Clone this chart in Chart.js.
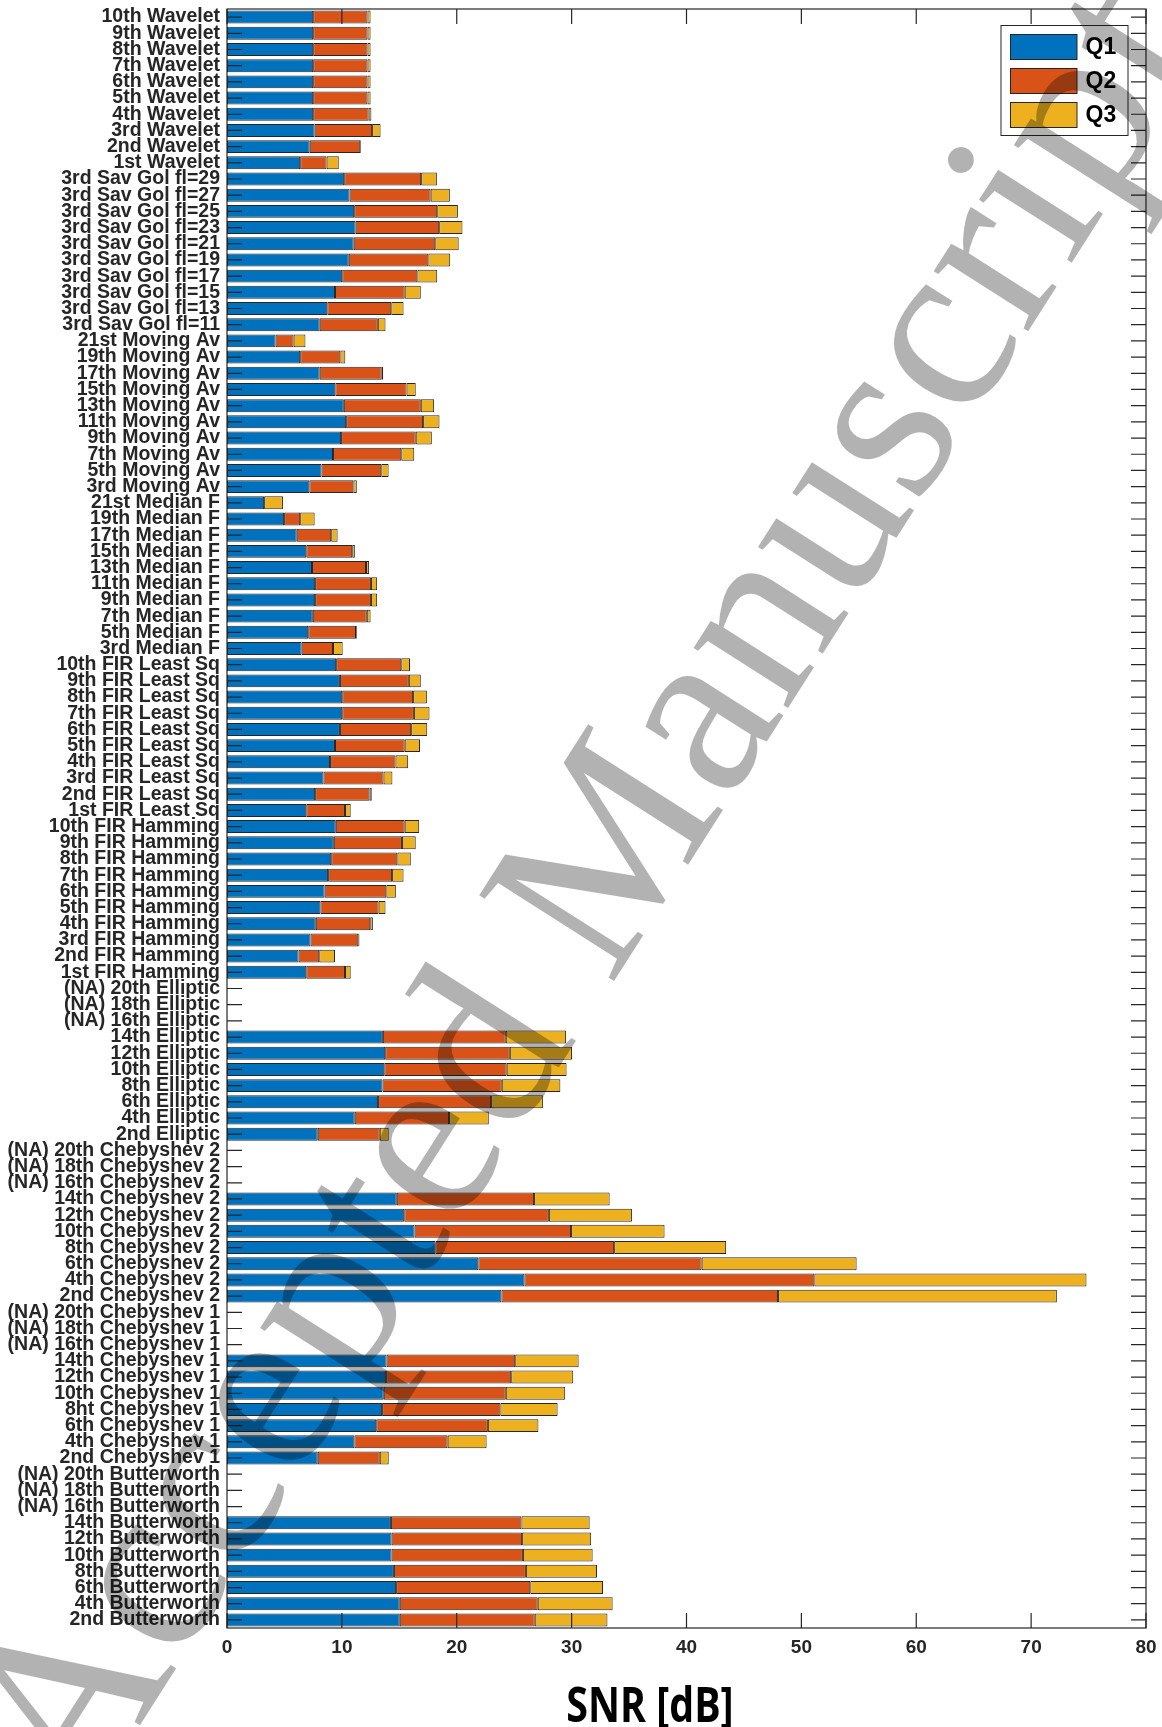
<!DOCTYPE html>
<html>
<head>
<meta charset="utf-8">
<title>SNR quartiles per filter</title>
<script src="https://cdn.jsdelivr.net/npm/chart.js@4.4.0/dist/chart.umd.min.js"></script>
<style>
    html, body { margin: 0; padding: 0; background: #fff; }
</style>
</head>
<body>
<canvas id="snrChart" width="1162" height="1727"></canvas>
<script>
// Filter names, top to bottom
const filterLabels = [
    '10th Wavelet', '9th Wavelet', '8th Wavelet', '7th Wavelet', '6th Wavelet',
    '5th Wavelet', '4th Wavelet', '3rd Wavelet', '2nd Wavelet', '1st Wavelet',
    '3rd Sav Gol fl=29', '3rd Sav Gol fl=27', '3rd Sav Gol fl=25', '3rd Sav Gol fl=23', '3rd Sav Gol fl=21',
    '3rd Sav Gol fl=19', '3rd Sav Gol fl=17', '3rd Sav Gol fl=15', '3rd Sav Gol fl=13', '3rd Sav Gol fl=11',
    '21st Moving Av', '19th Moving Av', '17th Moving Av', '15th Moving Av', '13th Moving Av',
    '11th Moving Av', '9th Moving Av', '7th Moving Av', '5th Moving Av', '3rd Moving Av',
    '21st Median F', '19th Median F', '17th Median F', '15th Median F', '13th Median F',
    '11th Median F', '9th Median F', '7th Median F', '5th Median F', '3rd Median F',
    '10th FIR Least Sq', '9th FIR Least Sq', '8th FIR Least Sq', '7th FIR Least Sq', '6th FIR Least Sq',
    '5th FIR Least Sq', '4th FIR Least Sq', '3rd FIR Least Sq', '2nd FIR Least Sq', '1st FIR Least Sq',
    '10th FIR Hamming', '9th FIR Hamming', '8th FIR Hamming', '7th FIR Hamming', '6th FIR Hamming',
    '5th FIR Hamming', '4th FIR Hamming', '3rd FIR Hamming', '2nd FIR Hamming', '1st FIR Hamming',
    '(NA) 20th Elliptic', '(NA) 18th Elliptic', '(NA) 16th Elliptic', '14th Elliptic', '12th Elliptic',
    '10th Elliptic', '8th Elliptic', '6th Elliptic', '4th Elliptic', '2nd Elliptic',
    '(NA) 20th Chebyshev 2', '(NA) 18th Chebyshev 2', '(NA) 16th Chebyshev 2', '14th Chebyshev 2', '12th Chebyshev 2',
    '10th Chebyshev 2', '8th Chebyshev 2', '6th Chebyshev 2', '4th Chebyshev 2', '2nd Chebyshev 2',
    '(NA) 20th Chebyshev 1', '(NA) 18th Chebyshev 1', '(NA) 16th Chebyshev 1', '14th Chebyshev 1', '12th Chebyshev 1',
    '10th Chebyshev 1', '8ht Chebyshev 1', '6th Chebyshev 1', '4th Chebyshev 1', '2nd Chebyshev 1',
    '(NA) 20th Butterworth', '(NA) 18th Butterworth', '(NA) 16th Butterworth', '14th Butterworth', '12th Butterworth',
    '10th Butterworth', '8th Butterworth', '6th Butterworth', '4th Butterworth', '2nd Butterworth'
];

// Quartiles of SNR [dB] (null = not available)
const q1Values = [
    7.5, 7.5, 7.5, 7.5, 7.5, 7.5, 7.5, 7.63, 7.2, 6.37,
    10.2, 10.67, 11.07, 11.2, 11.03, 10.6, 10.03, 9.4, 8.73, 8.07,
    4.23, 6.37, 8.07, 9.43, 10.17, 10.37, 9.93, 9.23, 8.23, 7.17,
    3.23, 4.97, 6.07, 6.9, 7.4, 7.67, 7.67, 7.47, 7.07, 6.5,
    9.5, 9.83, 10.03, 10.03, 9.83, 9.4, 8.97, 8.4, 7.67, 6.9,
    9.47, 9.3, 9.07, 8.8, 8.5, 8.13, 7.73, 7.27, 6.23, 6.9,
    null, null, null, 13.57, 13.77, 13.69, 13.54, 13.15, 11.12, 7.9,
    null, null, null, 14.78, 15.43, 16.33, 18.14, 21.88, 25.89, 23.89,
    null, null, null, 13.89, 13.85, 13.65, 13.5, 12.99, 11.09, 7.9,
    null, null, null, 14.27, 14.33, 14.33, 14.53, 14.72, 15.04, 15.04
];
const q2Values = [
    12.23, 12.23, 12.23, 12.23, 12.23, 12.23, 12.33, 12.63, 11.6, 8.67,
    16.9, 17.73, 18.3, 18.47, 18.13, 17.53, 16.57, 15.47, 14.3, 13.13,
    5.8, 9.87, 13.47, 15.63, 16.87, 17.07, 16.43, 15.17, 13.43, 11.0,
    3.23, 6.37, 9.07, 10.9, 12.1, 12.53, 12.53, 12.17, 11.23, 9.23,
    15.17, 15.83, 16.2, 16.27, 16.03, 15.47, 14.67, 13.63, 12.4, 10.27,
    15.47, 15.23, 14.83, 14.37, 13.87, 13.2, 12.47, 11.43, 8.03, 10.27,
    null, null, null, 24.27, 24.62, 24.35, 23.92, 22.99, 19.33, 13.3,
    null, null, null, 26.73, 28.02, 29.95, 33.7, 41.32, 51.13, 47.97,
    null, null, null, 25.09, 24.74, 24.27, 23.8, 22.71, 19.21, 13.3,
    null, null, null, 25.63, 25.69, 25.76, 26.02, 26.4, 27.05, 26.79
];
const q3Values = [
    12.5, 12.5, 12.5, 12.5, 12.5, 12.5, 12.57, 13.37, 11.67, 9.73,
    18.27, 19.4, 20.1, 20.5, 20.17, 19.43, 18.3, 16.87, 15.37, 13.8,
    6.83, 10.3, 13.6, 16.43, 18.03, 18.5, 17.83, 16.3, 14.07, 11.3,
    4.87, 7.63, 9.63, 11.13, 12.37, 13.07, 13.07, 12.5, 11.3, 10.07,
    15.93, 16.87, 17.4, 17.63, 17.43, 16.8, 15.77, 14.4, 12.6, 10.77,
    16.73, 16.43, 16.0, 15.37, 14.7, 13.8, 12.7, 11.53, 9.4, 10.77,
    null, null, null, 29.52, 30.03, 29.56, 29.02, 27.5, 22.79, 14.08,
    null, null, null, 33.31, 35.25, 38.09, 43.45, 54.81, 74.82, 72.24,
    null, null, null, 30.61, 30.14, 29.44, 28.78, 27.11, 22.6, 14.08,
    null, null, null, 31.57, 31.7, 31.83, 32.21, 32.73, 33.57, 33.12
];

const xTicks = [0, 10, 20, 30, 40, 50, 60, 70, 80];
const xTitle = 'SNR [dB]';
const stampText = 'Accepted Manuscript';

const AXIS_COLOR = '#262626';
const TICK_LEN = 15;

// Each quartile bar spans from the previous quartile to its own value
function span(from, to) {
    return to.map((v, i) => (v === null ? null : [from ? from[i] : 0, v]));
}

// Box, inward ticks, legend, axis title and the stamp, drawn MATLAB style
const matlabFrame = {
    id: 'matlabFrame',
    afterDatasetsDraw: function (chart) {
        const ctx = chart.ctx;
        const a = chart.chartArea;
        const x = chart.scales.x;
        const y = chart.scales.y;

        ctx.save();
        ctx.strokeStyle = AXIS_COLOR;
        ctx.lineWidth = 1.2;
        ctx.strokeRect(a.left, a.top, a.right - a.left, a.bottom - a.top);

        ctx.beginPath();
        y.ticks.forEach((t, i) => {
            const py = y.getPixelForTick(i);
            ctx.moveTo(a.left, py);
            ctx.lineTo(a.left + TICK_LEN, py);
            ctx.moveTo(a.right, py);
            ctx.lineTo(a.right - TICK_LEN, py);
        });
        x.ticks.forEach((t, i) => {
            const px = x.getPixelForTick(i);
            ctx.moveTo(px, a.top);
            ctx.lineTo(px, a.top + TICK_LEN);
            ctx.moveTo(px, a.bottom);
            ctx.lineTo(px, a.bottom - TICK_LEN);
        });
        ctx.stroke();

        // Legend box in the upper right corner
        const boxW = 127, boxH = 110;
        const bx = a.right - 18 - boxW;
        const by = a.top + 16.5;
        ctx.fillStyle = '#fff';
        ctx.fillRect(bx, by, boxW, boxH);
        ctx.lineWidth = 1;
        ctx.strokeRect(bx, by, boxW, boxH);

        ctx.font = 'bold 23px "Liberation Sans", Arial, sans-serif';
        ctx.textBaseline = 'middle';
        ctx.textAlign = 'left';
        chart.data.datasets.forEach((ds, i) => {
            const sy = by + 9 + i * 34;
            ctx.fillStyle = ds.backgroundColor;
            ctx.fillRect(bx + 9.5, sy, 66.5, 25);
            ctx.strokeStyle = ds.borderColor;
            ctx.strokeRect(bx + 9.5, sy, 66.5, 25);
            ctx.fillStyle = '#000';
            ctx.fillText(ds.label, bx + 84.5, sy + 13.5);
        });

        // x axis title, a narrow bold face
        ctx.translate(650, 1722);
        ctx.scale(0.82, 1);
        ctx.font = 'bold 48px "Open Sans", sans-serif';
        ctx.textAlign = 'center';
        ctx.textBaseline = 'alphabetic';
        ctx.fillStyle = '#000';
        ctx.fillText(xTitle, 0, 0);
        ctx.restore();
    },
    afterDraw: function (chart) {
        // "Accepted Manuscript" stamp over the whole figure,
        // anchored on the "c" of "Manuscript"
        const ctx = chart.ctx;
        const fs = 244;
        ctx.save();
        ctx.font = fs + 'px "Liberation Serif", "Times New Roman", serif';
        const lead = ctx.measureText('Accepted Manus').width + ctx.measureText('c').width / 2;
        ctx.translate(949, 351);
        ctx.rotate(-57.5 * Math.PI / 180);
        ctx.textAlign = 'left';
        ctx.textBaseline = 'alphabetic';
        ctx.fillStyle = 'rgba(0, 0, 0, 0.3)';
        ctx.fillText(stampText, -lead, 0.23 * fs);
        ctx.restore();
    }
};

const ctx = document.getElementById('snrChart').getContext('2d');

const barStyle = {
    borderColor: AXIS_COLOR,
    borderWidth: 1,
    borderSkipped: false,
    grouped: false,
    barPercentage: 0.8,
    categoryPercentage: 1.0
};

new Chart(ctx, {
    type: 'bar',
    data: {
        labels: filterLabels,
        datasets: [
            Object.assign({ label: 'Q1', data: span(null, q1Values), backgroundColor: '#0072BD' }, barStyle),
            Object.assign({ label: 'Q2', data: span(q1Values, q2Values), backgroundColor: '#D95319' }, barStyle),
            Object.assign({ label: 'Q3', data: span(q2Values, q3Values), backgroundColor: '#EDB120' }, barStyle)
        ]
    },
    options: {
        indexAxis: 'y',
        responsive: false,
        animation: false,
        layout: {
            padding: { left: 0, right: 16, top: 9, bottom: 0 }
        },
        plugins: {
            legend: { display: false },
            tooltip: { enabled: false }
        },
        scales: {
            x: {
                type: 'linear',
                min: 0,
                max: 80,
                afterBuildTicks: function (scale) {
                    scale.ticks = xTicks.map(v => ({ value: v }));
                },
                afterFit: function (scale) {
                    scale.height = 99;
                    scale.paddingLeft = 0;
                    scale.paddingRight = 0;
                },
                grid: { display: false, drawTicks: false },
                border: { display: false },
                ticks: {
                    padding: 8,
                    color: AXIS_COLOR,
                    font: { family: '"Liberation Sans", Arial, sans-serif', size: 19, weight: 'bold' }
                }
            },
            y: {
                type: 'category',
                afterFit: function (scale) {
                    scale.width = 227;
                    scale.paddingTop = 0;
                    scale.paddingBottom = 0;
                },
                grid: { display: false, drawTicks: false },
                border: { display: false },
                ticks: {
                    autoSkip: false,
                    padding: 7,
                    color: AXIS_COLOR,
                    font: { family: '"Liberation Sans", Arial, sans-serif', size: 19.5, weight: 'bold' }
                }
            }
        }
    },
    plugins: [matlabFrame]
});
</script>
</body>
</html>
